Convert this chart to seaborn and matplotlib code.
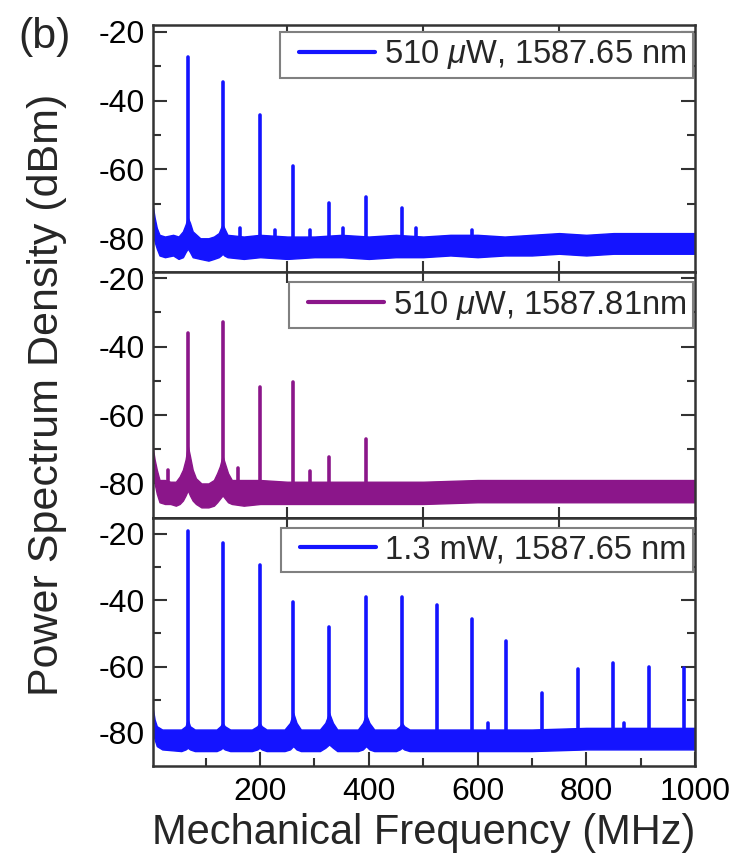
import numpy as np
import pandas as pd
import matplotlib
matplotlib.use("Agg")
import matplotlib.pyplot as plt
from matplotlib.lines import Line2D
from matplotlib.legend_handler import HandlerLine2D
import seaborn as sns

# ---------------- data ----------------
labels = ["510 $\\mu$W, 1587.65 nm", "510 $\\mu$W, 1587.81nm", "1.3 mW, 1587.65 nm"]
colors = ["#1414FF", "#8B168A", "#1414FF"]

# panel 1 peaks (MHz, dBm)
p1_freq = [67, 131, 199, 261, 327, 395, 461, 163, 228, 292, 353, 486, 590]
p1_level = [-27.4, -34.6, -44.2, -59.0, -69.9, -68.0, -71.3, -77, -77.5, -77.5, -77, -77, -77.5]
# panel 2 peaks
p2_freq = [67, 131, 199, 261, 327, 395, 30, 160, 292]
p2_level = [-36.0, -32.8, -51.8, -50.3, -72.2, -67.0, -76, -75.5, -76.5]
# panel 3 peaks
p3_freq = [67, 131, 199, 261, 327, 395, 461, 525, 590, 653, 719, 784, 850, 915, 979, 620, 870]
p3_level = [-19.2, -22.6, -29.5, -40.5, -48.0, -38.9, -38.9, -41.4, -45.6, -52.3,
            -68.0, -60.8, -59.0, -60.2, -60.5, -77, -77]

# noise-floor envelopes (frequency, upper edge, lower edge)
f1_env = [3, 6, 10, 15, 25, 40, 50, 58, 63, 67, 71, 76, 90, 105, 115, 124, 128, 131, 134, 140,
          170, 200, 250, 300, 350, 400, 450, 500, 550, 600, 650, 700, 750, 800, 850, 900, 950, 1000]
up1 = [-71, -74, -77, -79, -79.5, -79, -79.5, -78, -76, -74, -75.5, -78, -80, -80, -79.5, -78.5,
       -77, -76, -77, -79, -79.5, -79, -79.5, -79.5, -79, -79.5, -79, -79.5, -79, -79, -79.5,
       -79, -78.5, -79, -78.5, -78.5, -78.5, -78.5]
lo1 = [-79, -81, -83, -85, -85.5, -85, -86, -85.5, -84, -83, -84, -85.5, -86, -86.5, -86, -85.5,
       -85, -84.5, -85, -85.5, -86, -85.5, -86, -85.5, -85.5, -86, -85.5, -85.5, -85, -85.5, -85,
       -85, -84.5, -85, -84.5, -84.5, -84.5, -84.5]

f2_env = [3, 6, 10, 15, 25, 35, 45, 52, 58, 63, 67, 71, 76, 82, 92, 105, 115, 121, 126, 131,
          136, 141, 148, 170, 200, 250, 300, 400, 500, 600, 700, 800, 900, 1000]
up2 = [-70, -73, -76, -79, -79, -79.5, -79.5, -78, -76, -73, -69, -72, -76, -78.5, -80, -80,
       -79, -77, -75, -72, -74.5, -77, -79, -79, -79, -79.5, -79.5, -79.5, -79.5, -79, -79,
       -79, -79, -79]
lo2 = [-78, -80, -83, -85.5, -86, -86, -86.5, -86, -85, -83.5, -82, -83.5, -85, -86, -87, -87,
       -86.5, -85.5, -84.5, -83.5, -84.5, -85.5, -86, -86.5, -86, -86, -86, -86, -86, -85.5,
       -85.5, -85.5, -85.5, -85.5]

f3_env = [3, 6, 10, 20, 55, 63, 67, 71, 80, 120, 127, 131, 135, 145, 185, 195, 199, 203, 212,
          245, 255, 261, 267, 275, 310, 320, 327, 334, 342, 380, 389, 395, 401, 410, 450, 457,
          461, 465, 475, 600, 700, 800, 900, 1000]
up3 = [-73, -76, -78, -79, -79, -78, -76, -78, -79, -79, -78, -77, -78, -79, -79, -78, -77, -78,
       -79, -79, -77, -74, -77, -79, -79, -77, -74, -77, -79, -79, -77, -74.5, -77, -79, -79,
       -78, -77, -78, -79, -79, -79, -78.5, -78.5, -78.5]
lo3 = [-80, -82, -84, -85, -85.5, -85, -84.5, -85, -85.5, -85.5, -85, -84.5, -85, -85.5, -85.5,
       -85, -84.5, -85, -85.5, -85.5, -85, -84, -85, -85.5, -85.5, -84.5, -83.5, -84.5, -85.5,
       -85.5, -85, -84, -85, -85.5, -85.5, -85, -84.5, -85, -85.5, -85.5, -85.5, -85, -85, -85]

ylims = [(-89.8, -18.05), (-90.1, -18.2), (-90.0, -15.2)]

peaks = [(p1_freq, p1_level), (p2_freq, p2_level), (p3_freq, p3_level)]
envs = [(f1_env, up1, lo1), (f2_env, up2, lo2), (f3_env, up3, lo3)]


class PadHandler(HandlerLine2D):
    """Line handle with a blank gap on its left side."""
    def __init__(self, pad=8.0, **kw):
        super().__init__(**kw)
        self.pad = pad

    def create_artists(self, legend, orig_handle, xdescent, ydescent, width, height,
                       fontsize, trans):
        arts = super().create_artists(legend, orig_handle, xdescent, ydescent, width,
                                      height, fontsize, trans)
        for a in arts:
            if isinstance(a, Line2D):
                x = np.asarray(a.get_xdata(), dtype=float)
                if x.size > 1 and x.max() > x.min():
                    x0, x1 = x.min(), x.max()
                    a.set_xdata(x0 + self.pad + (x - x0) * (x1 - x0 - self.pad) / (x1 - x0))
        return arts


# ---------------- style ----------------
sns.set_theme(style="ticks")
plt.rcParams["font.family"] = ["Liberation Sans", "DejaVu Sans"]
plt.rcParams["mathtext.fontset"] = "custom"
plt.rcParams["mathtext.rm"] = "Liberation Sans"
plt.rcParams["mathtext.it"] = "Liberation Sans:italic"

W, H = 744, 866
fig = plt.figure(figsize=(W / 100, H / 100), dpi=100)
left, right = 153, 695
bounds = [(25, 272), (272, 518), (518, 766)]

axes = []
for i, (top, bot) in enumerate(bounds):
    ax = fig.add_axes([left / W, 1 - bot / H, (right - left) / W, (bot - top) / H])
    axes.append(ax)
    fe, up, lo = envs[i]
    ax.fill_between(fe, lo, up, color=colors[i], lw=1.0, edgecolor=colors[i])
    pf, pl = peaks[i]
    rows = []
    for k, (f, lv) in enumerate(zip(pf, pl)):
        rows.append({"freq": f, "level": -82.0, "pid": k})
        rows.append({"freq": f, "level": lv, "pid": k})
    df = pd.DataFrame(rows)
    sns.lineplot(data=df, x="freq", y="level", units="pid", estimator=None,
                 color=colors[i], lw=2.6, ax=ax, legend=False, sort=False)
    ax.set_xlim(3, 1000)
    ax.set_ylim(*ylims[i])
    ax.set_xlabel("")
    ax.set_ylabel("")
    ax.set_yticks([-20, -40, -60, -80])
    ax.set_yticks([-30, -50, -70], minor=True)
    ax.set_yticklabels(["-20", "-40", "-60", "-80"])
    ax.tick_params(axis="y", which="both", direction="in", left=True, right=True,
                   labelsize=23, width=1.5, colors="#333333", labelcolor="black")
    ax.tick_params(axis="y", which="major", length=10, pad=6)
    ax.tick_params(axis="y", which="minor", length=6)
    for s in ax.spines.values():
        s.set_linewidth(1.8)
        s.set_color("#333333")
    if i < 2:
        ax.set_xticks([250, 500, 750])
        ax.tick_params(axis="x", which="both", direction="in", top=True, bottom=True,
                       labelbottom=False, length=8, width=1.5, colors="#333333")
    else:
        ax.set_xticks([200, 400, 600, 800, 1000])
        ax.set_xticks([100, 300, 500, 700, 900], minor=True)
        ax.tick_params(axis="x", which="both", direction="in", top=False, bottom=True,
                       labelsize=23, width=1.5, colors="#333333", labelcolor="black", pad=8)
        ax.tick_params(axis="x", which="major", length=10)
        ax.tick_params(axis="x", which="minor", length=6)
        sec = ax.secondary_xaxis("top")
        sec.set_xticks([250, 500, 750])
        sec.tick_params(axis="x", direction="in", length=8, width=1.5, colors="#333333",
                        labeltop=False)
        ax.set_xlabel("Mechanical Frequency (MHz)", fontsize=30, labelpad=4)
    handle = Line2D([], [], color=colors[i], lw=3)
    tops = [0.972, 0.959, 0.960]
    leg = ax.legend([handle], [labels[i]], loc="upper right",
                    bbox_to_anchor=(0.997, tops[i]), borderaxespad=0, fontsize=23.5,
                    handlelength=2.7, handletextpad=0.3, borderpad=0.2,
                    fancybox=False, framealpha=1, edgecolor="#808080",
                    handler_map={Line2D: PadHandler(pad=9.0)})
    leg.get_frame().set_linewidth(1.5)

fig.text(47 / W, 1 - 395 / H, "Power Spectrum Density (dBm)", rotation=90,
         fontsize=31, ha="center", va="center")
fig.text(45 / W, 1 - 37 / H, "(b)", fontsize=31, ha="center", va="center")

fig.savefig("out.png", dpi=100)
